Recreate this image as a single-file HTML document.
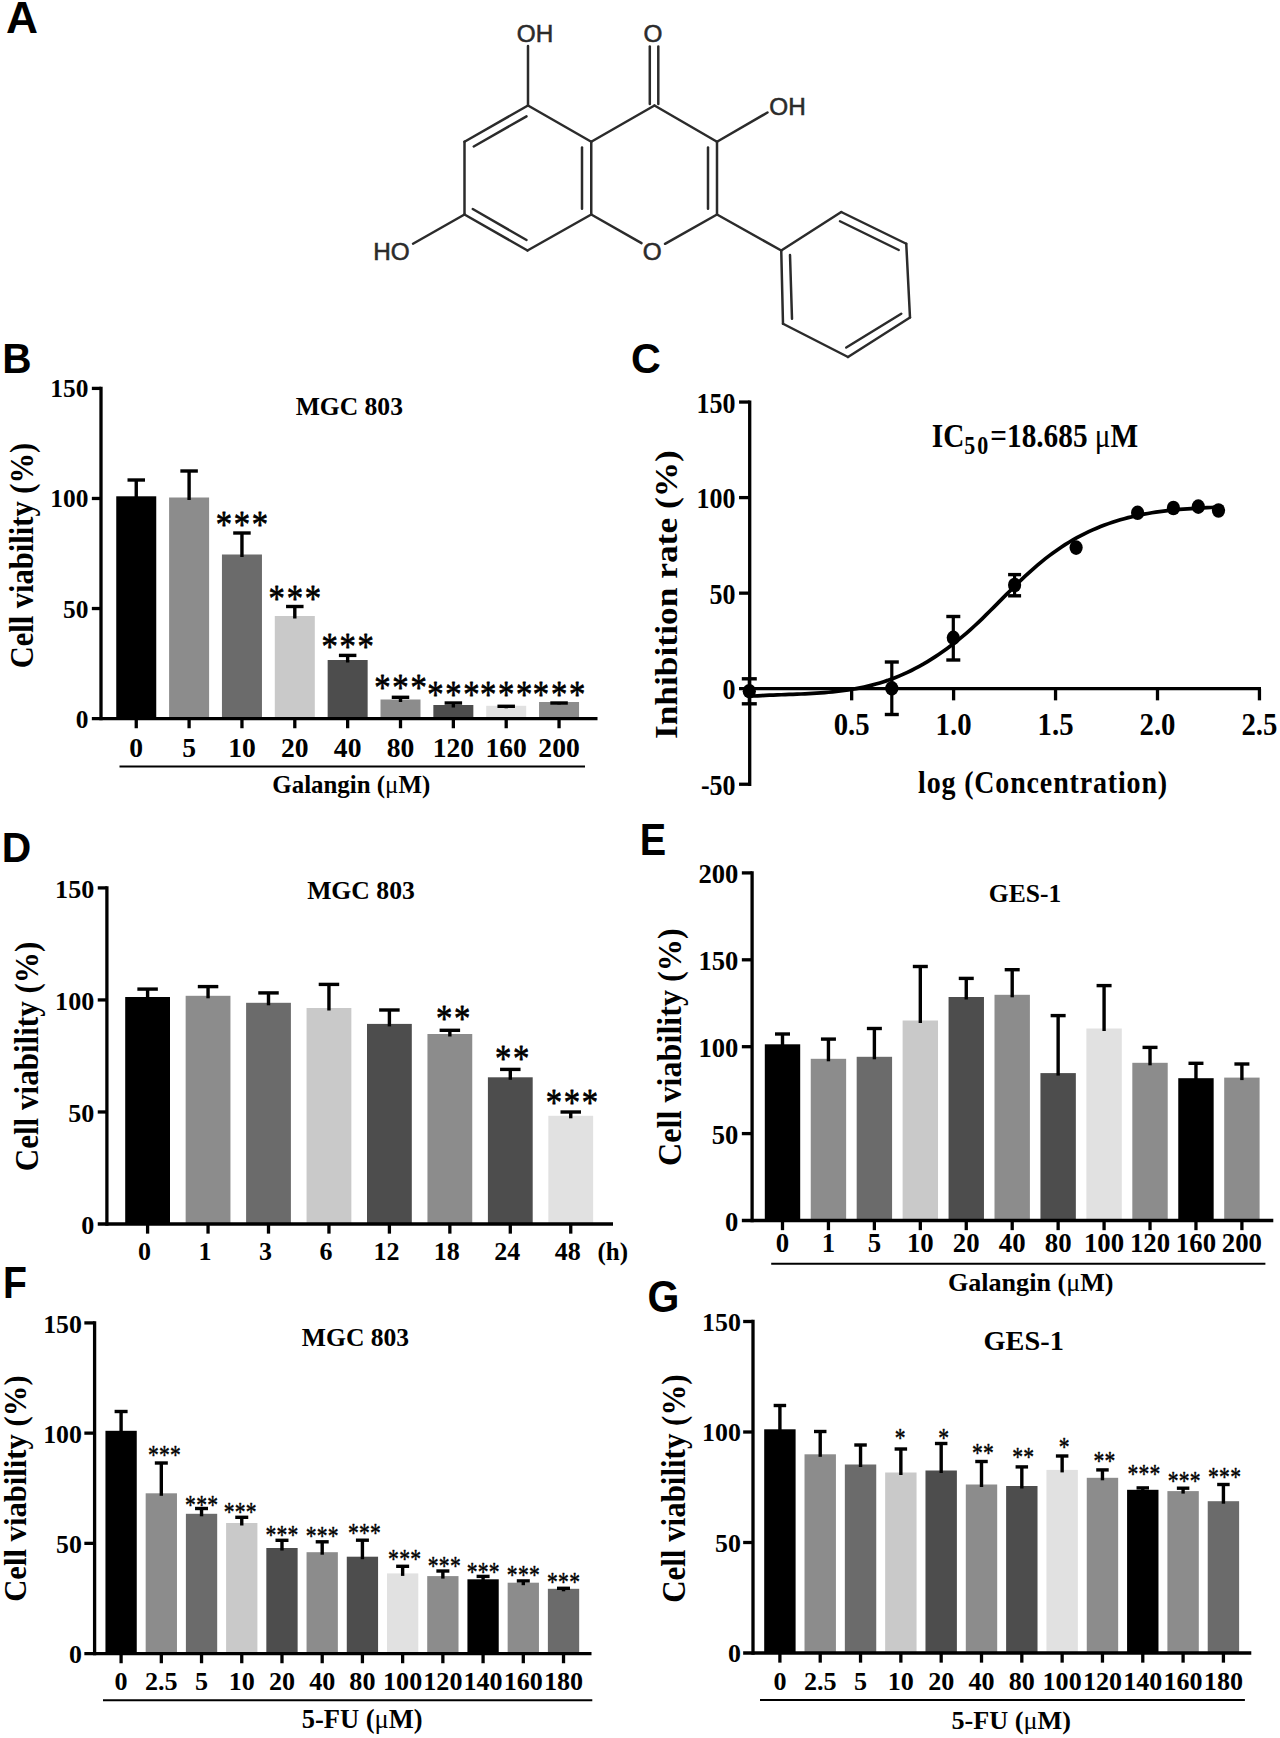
<!DOCTYPE html>
<html lang="en"><head><meta charset="utf-8"><title>Galangin figure</title>
<style>
html,body{margin:0;padding:0;background:#fff;}
svg{display:block;width:1280px;height:1738px;}
.s{font-family:"Liberation Serif", "DejaVu Serif", serif;font-weight:700;fill:#000;}
.sb{font-family:"Liberation Serif", "DejaVu Serif", serif;font-weight:400;fill:#000;stroke:#000;stroke-linejoin:round;}
.mu{font-family:"Liberation Serif", "DejaVu Serif", serif;font-weight:400;}
.pl{font-family:"Liberation Sans", "DejaVu Sans", sans-serif;font-weight:700;fill:#000;}
.ch{font-family:"Liberation Sans", "DejaVu Sans", sans-serif;font-weight:400;fill:#2b2b2b;stroke:#2b2b2b;stroke-width:0.55px;}
</style></head><body>
<svg width="1280" height="1738" viewBox="0 0 1280 1738">
<rect width="1280" height="1738" fill="#fff"/>
<text class="pl" transform="translate(5.9 32.7) scale(1.0 1)" font-size="44.3">A</text>
<text class="pl" transform="translate(2.3 373.2) scale(0.94 1)" font-size="43.2">B</text>
<text class="pl" transform="translate(631 372.8) scale(0.965 1)" font-size="42.8">C</text>
<text class="pl" transform="translate(1.8 862.3) scale(0.945 1)" font-size="43.2">D</text>
<text class="pl" transform="translate(639.7 854.6) scale(0.9 1)" font-size="44">E</text>
<text class="pl" transform="translate(3 1297.6) scale(0.89 1)" font-size="44">F</text>
<text class="pl" transform="translate(647.5 1311.8) scale(0.91 1)" font-size="45">G</text>
<g id="molecule">
<line x1="528" y1="105.5" x2="464.5" y2="141.75" stroke="#2b2b2b" stroke-width="2.5" stroke-linecap="round"/>
<line x1="464.5" y1="141.75" x2="464.5" y2="214.5" stroke="#2b2b2b" stroke-width="2.5" stroke-linecap="round"/>
<line x1="464.5" y1="214.5" x2="527.5" y2="250.5" stroke="#2b2b2b" stroke-width="2.5" stroke-linecap="round"/>
<line x1="527.5" y1="250.5" x2="591.25" y2="214.5" stroke="#2b2b2b" stroke-width="2.5" stroke-linecap="round"/>
<line x1="591.25" y1="214.5" x2="591.25" y2="141.75" stroke="#2b2b2b" stroke-width="2.5" stroke-linecap="round"/>
<line x1="591.25" y1="141.75" x2="528" y2="105.5" stroke="#2b2b2b" stroke-width="2.5" stroke-linecap="round"/>
<line x1="473.75" y1="146.5" x2="526.5" y2="116.3" stroke="#2b2b2b" stroke-width="2.5" stroke-linecap="round"/>
<line x1="582" y1="147.5" x2="582" y2="208.75" stroke="#2b2b2b" stroke-width="2.5" stroke-linecap="round"/>
<line x1="472.75" y1="209" x2="526.5" y2="240" stroke="#2b2b2b" stroke-width="2.5" stroke-linecap="round"/>
<line x1="591.25" y1="141.75" x2="654.5" y2="105.5" stroke="#2b2b2b" stroke-width="2.5" stroke-linecap="round"/>
<line x1="654.5" y1="105.5" x2="717" y2="141.75" stroke="#2b2b2b" stroke-width="2.5" stroke-linecap="round"/>
<line x1="717" y1="141.75" x2="717" y2="214.5" stroke="#2b2b2b" stroke-width="2.5" stroke-linecap="round"/>
<line x1="708" y1="147.5" x2="708" y2="208.75" stroke="#2b2b2b" stroke-width="2.5" stroke-linecap="round"/>
<line x1="591.25" y1="214.5" x2="641.5" y2="243.2" stroke="#2b2b2b" stroke-width="2.5" stroke-linecap="round"/>
<line x1="665" y1="243.8" x2="717" y2="214.5" stroke="#2b2b2b" stroke-width="2.5" stroke-linecap="round"/>
<line x1="528" y1="105.5" x2="528" y2="46" stroke="#2b2b2b" stroke-width="2.5" stroke-linecap="round"/>
<line x1="649.8" y1="104" x2="649.8" y2="46.5" stroke="#2b2b2b" stroke-width="2.5" stroke-linecap="round"/>
<line x1="658.3" y1="104" x2="658.3" y2="46.5" stroke="#2b2b2b" stroke-width="2.5" stroke-linecap="round"/>
<line x1="464.5" y1="214.5" x2="413" y2="243.75" stroke="#2b2b2b" stroke-width="2.5" stroke-linecap="round"/>
<line x1="717" y1="141.75" x2="767.5" y2="112.5" stroke="#2b2b2b" stroke-width="2.5" stroke-linecap="round"/>
<line x1="717" y1="214.5" x2="781.25" y2="250.5" stroke="#2b2b2b" stroke-width="2.5" stroke-linecap="round"/>
<line x1="781.25" y1="250.5" x2="841.25" y2="212" stroke="#2b2b2b" stroke-width="2.5" stroke-linecap="round"/>
<line x1="841.25" y1="212" x2="906.25" y2="243.75" stroke="#2b2b2b" stroke-width="2.5" stroke-linecap="round"/>
<line x1="906.25" y1="243.75" x2="910" y2="317.5" stroke="#2b2b2b" stroke-width="2.5" stroke-linecap="round"/>
<line x1="910" y1="317.5" x2="848" y2="357" stroke="#2b2b2b" stroke-width="2.5" stroke-linecap="round"/>
<line x1="848" y1="357" x2="783" y2="323.75" stroke="#2b2b2b" stroke-width="2.5" stroke-linecap="round"/>
<line x1="783" y1="323.75" x2="781.25" y2="250.5" stroke="#2b2b2b" stroke-width="2.5" stroke-linecap="round"/>
<line x1="790" y1="255" x2="792" y2="318.75" stroke="#2b2b2b" stroke-width="2.5" stroke-linecap="round"/>
<line x1="840" y1="221.25" x2="898.75" y2="250" stroke="#2b2b2b" stroke-width="2.5" stroke-linecap="round"/>
<line x1="846.25" y1="347.5" x2="901.25" y2="313.75" stroke="#2b2b2b" stroke-width="2.5" stroke-linecap="round"/>
<text class="ch" x="535" y="41.6" font-size="24.3" text-anchor="middle">OH</text>
<text class="ch" x="652.9" y="41.6" font-size="24.3" text-anchor="middle">O</text>
<text class="ch" x="787.5" y="114.8" font-size="24.3" text-anchor="middle">OH</text>
<text class="ch" x="391.5" y="260.4" font-size="24.3" text-anchor="middle">HO</text>
<text class="ch" x="652.3" y="260.4" font-size="24.3" text-anchor="middle">O</text>
</g>
<g id="panelB">
<rect x="116.25" y="496.3" width="40" height="222.3" fill="#000000"/>
<rect x="169.1" y="497.5" width="40" height="221.1" fill="#8c8c8c"/>
<rect x="221.95" y="554.5" width="40" height="164.1" fill="#6b6b6b"/>
<rect x="274.8" y="616" width="40" height="102.6" fill="#c9c9c9"/>
<rect x="327.65" y="660" width="40" height="58.6" fill="#4d4d4d"/>
<rect x="380.5" y="699.5" width="40" height="19.1" fill="#8c8c8c"/>
<rect x="433.35" y="705" width="40" height="13.6" fill="#4d4d4d"/>
<rect x="486.2" y="705.8" width="40" height="12.8" fill="#e1e1e1"/>
<rect x="539.05" y="702" width="40" height="16.6" fill="#8c8c8c"/>
<line x1="136.25" y1="480" x2="136.25" y2="498.8" stroke="#000" stroke-width="3.4" stroke-linecap="butt"/>
<line x1="127.5" y1="480" x2="145" y2="480" stroke="#000" stroke-width="3.4" stroke-linecap="butt"/>
<line x1="189.1" y1="471" x2="189.1" y2="500" stroke="#000" stroke-width="3.4" stroke-linecap="butt"/>
<line x1="180.35" y1="471" x2="197.85" y2="471" stroke="#000" stroke-width="3.4" stroke-linecap="butt"/>
<line x1="241.95" y1="533" x2="241.95" y2="557" stroke="#000" stroke-width="3.4" stroke-linecap="butt"/>
<line x1="233.2" y1="533" x2="250.7" y2="533" stroke="#000" stroke-width="3.4" stroke-linecap="butt"/>
<text class="sb" stroke-width="0.75" transform="translate(242.81 536.6) scale(0.86 1)" font-size="38" text-anchor="middle" letter-spacing="2.0">***</text>
<line x1="294.8" y1="606.5" x2="294.8" y2="618.5" stroke="#000" stroke-width="3.4" stroke-linecap="butt"/>
<line x1="286.05" y1="606.5" x2="303.55" y2="606.5" stroke="#000" stroke-width="3.4" stroke-linecap="butt"/>
<text class="sb" stroke-width="0.75" transform="translate(295.66 610.64) scale(0.86 1)" font-size="38" text-anchor="middle" letter-spacing="2.0">***</text>
<line x1="347.65" y1="655.4" x2="347.65" y2="662.5" stroke="#000" stroke-width="3.4" stroke-linecap="butt"/>
<line x1="338.9" y1="655.4" x2="356.4" y2="655.4" stroke="#000" stroke-width="3.4" stroke-linecap="butt"/>
<text class="sb" stroke-width="0.75" transform="translate(348.51 659.1) scale(0.86 1)" font-size="38" text-anchor="middle" letter-spacing="2.0">***</text>
<line x1="400.5" y1="697.3" x2="400.5" y2="702" stroke="#000" stroke-width="3.4" stroke-linecap="butt"/>
<line x1="391.75" y1="697.3" x2="409.25" y2="697.3" stroke="#000" stroke-width="3.4" stroke-linecap="butt"/>
<text class="sb" stroke-width="0.75" transform="translate(401.36 700.35) scale(0.86 1)" font-size="38" text-anchor="middle" letter-spacing="2.0">***</text>
<line x1="453.35" y1="703" x2="453.35" y2="707.5" stroke="#000" stroke-width="3.4" stroke-linecap="butt"/>
<line x1="444.6" y1="703" x2="462.1" y2="703" stroke="#000" stroke-width="3.4" stroke-linecap="butt"/>
<text class="sb" stroke-width="0.75" transform="translate(454.21 706.6) scale(0.86 1)" font-size="38" text-anchor="middle" letter-spacing="2.0">***</text>
<line x1="506.2" y1="706.3" x2="506.2" y2="708.3" stroke="#000" stroke-width="3.4" stroke-linecap="butt"/>
<line x1="497.45" y1="706.3" x2="514.95" y2="706.3" stroke="#000" stroke-width="3.4" stroke-linecap="butt"/>
<text class="sb" stroke-width="0.75" transform="translate(507.06 706.6) scale(0.86 1)" font-size="38" text-anchor="middle" letter-spacing="2.0">***</text>
<line x1="559.05" y1="703" x2="559.05" y2="704.5" stroke="#000" stroke-width="3.4" stroke-linecap="butt"/>
<line x1="550.3" y1="703" x2="567.8" y2="703" stroke="#000" stroke-width="3.4" stroke-linecap="butt"/>
<text class="sb" stroke-width="0.75" transform="translate(559.91 706.6) scale(0.86 1)" font-size="38" text-anchor="middle" letter-spacing="2.0">***</text>
<line x1="101" y1="386.75" x2="101" y2="720.25" stroke="#000" stroke-width="3.3" stroke-linecap="butt"/>
<line x1="91.85" y1="718.6" x2="597.5" y2="718.6" stroke="#000" stroke-width="3.3" stroke-linecap="butt"/>
<text class="s" x="88.35" y="727.61" font-size="25.4" text-anchor="end">0</text>
<line x1="91.85" y1="608.53" x2="101" y2="608.53" stroke="#000" stroke-width="3.3" stroke-linecap="butt"/>
<text class="s" x="88.35" y="617.54" font-size="25.4" text-anchor="end">50</text>
<line x1="91.85" y1="498.47" x2="101" y2="498.47" stroke="#000" stroke-width="3.3" stroke-linecap="butt"/>
<text class="s" x="88.35" y="507.48" font-size="25.4" text-anchor="end">100</text>
<line x1="91.85" y1="388.4" x2="101" y2="388.4" stroke="#000" stroke-width="3.3" stroke-linecap="butt"/>
<text class="s" x="88.35" y="397.41" font-size="25.4" text-anchor="end">150</text>
<line x1="136.25" y1="718.6" x2="136.25" y2="728.25" stroke="#000" stroke-width="3.3" stroke-linecap="butt"/>
<text class="s" x="136.25" y="757" font-size="27.6" text-anchor="middle">0</text>
<line x1="189.1" y1="718.6" x2="189.1" y2="728.25" stroke="#000" stroke-width="3.3" stroke-linecap="butt"/>
<text class="s" x="189.1" y="757" font-size="27.6" text-anchor="middle">5</text>
<line x1="241.95" y1="718.6" x2="241.95" y2="728.25" stroke="#000" stroke-width="3.3" stroke-linecap="butt"/>
<text class="s" x="241.95" y="757" font-size="27.6" text-anchor="middle">10</text>
<line x1="294.8" y1="718.6" x2="294.8" y2="728.25" stroke="#000" stroke-width="3.3" stroke-linecap="butt"/>
<text class="s" x="294.8" y="757" font-size="27.6" text-anchor="middle">20</text>
<line x1="347.65" y1="718.6" x2="347.65" y2="728.25" stroke="#000" stroke-width="3.3" stroke-linecap="butt"/>
<text class="s" x="347.65" y="757" font-size="27.6" text-anchor="middle">40</text>
<line x1="400.5" y1="718.6" x2="400.5" y2="728.25" stroke="#000" stroke-width="3.3" stroke-linecap="butt"/>
<text class="s" x="400.5" y="757" font-size="27.6" text-anchor="middle">80</text>
<line x1="453.35" y1="718.6" x2="453.35" y2="728.25" stroke="#000" stroke-width="3.3" stroke-linecap="butt"/>
<text class="s" x="453.35" y="757" font-size="27.6" text-anchor="middle">120</text>
<line x1="506.2" y1="718.6" x2="506.2" y2="728.25" stroke="#000" stroke-width="3.3" stroke-linecap="butt"/>
<text class="s" x="506.2" y="757" font-size="27.6" text-anchor="middle">160</text>
<line x1="559.05" y1="718.6" x2="559.05" y2="728.25" stroke="#000" stroke-width="3.3" stroke-linecap="butt"/>
<text class="s" x="559.05" y="757" font-size="27.6" text-anchor="middle">200</text>
<line x1="119.5" y1="766.6" x2="585" y2="766.6" stroke="#000" stroke-width="2" stroke-linecap="butt"/>
<text class="s" x="351.3" y="793" font-size="24.9" text-anchor="middle">Galangin (<tspan class="mu">μ</tspan>M)</text>
<text class="s" x="349.3" y="415" font-size="25.6" text-anchor="middle">MGC 803</text>
<text class="s" transform="translate(32.8 555.6) rotate(-90)" font-size="32.7" text-anchor="middle" textLength="225.5" lengthAdjust="spacingAndGlyphs">Cell viability (%)</text>
</g>
<g id="panelD">
<rect x="125.2" y="997" width="44.8" height="227" fill="#000000"/>
<rect x="185.65" y="995.8" width="44.8" height="228.2" fill="#8c8c8c"/>
<rect x="246.1" y="1002.8" width="44.8" height="221.2" fill="#6b6b6b"/>
<rect x="306.55" y="1008" width="44.8" height="216" fill="#c9c9c9"/>
<rect x="367" y="1023.9" width="44.8" height="200.1" fill="#4d4d4d"/>
<rect x="427.45" y="1034" width="44.8" height="190" fill="#8c8c8c"/>
<rect x="487.9" y="1077.3" width="44.8" height="146.7" fill="#4d4d4d"/>
<rect x="548.35" y="1115.8" width="44.8" height="108.2" fill="#e1e1e1"/>
<line x1="147.6" y1="989.1" x2="147.6" y2="999.5" stroke="#000" stroke-width="3.4" stroke-linecap="butt"/>
<line x1="137.35" y1="989.1" x2="157.85" y2="989.1" stroke="#000" stroke-width="3.4" stroke-linecap="butt"/>
<line x1="208.05" y1="986.6" x2="208.05" y2="998.3" stroke="#000" stroke-width="3.4" stroke-linecap="butt"/>
<line x1="197.8" y1="986.6" x2="218.3" y2="986.6" stroke="#000" stroke-width="3.4" stroke-linecap="butt"/>
<line x1="268.5" y1="992.9" x2="268.5" y2="1005.3" stroke="#000" stroke-width="3.4" stroke-linecap="butt"/>
<line x1="258.25" y1="992.9" x2="278.75" y2="992.9" stroke="#000" stroke-width="3.4" stroke-linecap="butt"/>
<line x1="328.95" y1="984.4" x2="328.95" y2="1010.5" stroke="#000" stroke-width="3.4" stroke-linecap="butt"/>
<line x1="318.7" y1="984.4" x2="339.2" y2="984.4" stroke="#000" stroke-width="3.4" stroke-linecap="butt"/>
<line x1="389.4" y1="1010" x2="389.4" y2="1026.4" stroke="#000" stroke-width="3.4" stroke-linecap="butt"/>
<line x1="379.15" y1="1010" x2="399.65" y2="1010" stroke="#000" stroke-width="3.4" stroke-linecap="butt"/>
<line x1="449.85" y1="1030.3" x2="449.85" y2="1036.5" stroke="#000" stroke-width="3.4" stroke-linecap="butt"/>
<line x1="439.6" y1="1030.3" x2="460.1" y2="1030.3" stroke="#000" stroke-width="3.4" stroke-linecap="butt"/>
<text class="sb" stroke-width="0.75" transform="translate(454.11 1031.05) scale(0.86 1)" font-size="38" text-anchor="middle" letter-spacing="2.0">**</text>
<line x1="510.3" y1="1069.4" x2="510.3" y2="1079.8" stroke="#000" stroke-width="3.4" stroke-linecap="butt"/>
<line x1="500.05" y1="1069.4" x2="520.55" y2="1069.4" stroke="#000" stroke-width="3.4" stroke-linecap="butt"/>
<text class="sb" stroke-width="0.75" transform="translate(512.96 1070.85) scale(0.86 1)" font-size="38" text-anchor="middle" letter-spacing="2.0">**</text>
<line x1="570.75" y1="1112" x2="570.75" y2="1118.3" stroke="#000" stroke-width="3.4" stroke-linecap="butt"/>
<line x1="560.5" y1="1112" x2="581" y2="1112" stroke="#000" stroke-width="3.4" stroke-linecap="butt"/>
<text class="sb" stroke-width="0.75" transform="translate(572.81 1114.75) scale(0.86 1)" font-size="38" text-anchor="middle" letter-spacing="2.0">***</text>
<line x1="106.9" y1="886.25" x2="106.9" y2="1225.65" stroke="#000" stroke-width="3.3" stroke-linecap="butt"/>
<line x1="97.75" y1="1224" x2="613" y2="1224" stroke="#000" stroke-width="3.3" stroke-linecap="butt"/>
<text class="s" x="94.25" y="1234.24" font-size="26.1" text-anchor="end">0</text>
<line x1="97.75" y1="1111.97" x2="106.9" y2="1111.97" stroke="#000" stroke-width="3.3" stroke-linecap="butt"/>
<text class="s" x="94.25" y="1122.21" font-size="26.1" text-anchor="end">50</text>
<line x1="97.75" y1="999.93" x2="106.9" y2="999.93" stroke="#000" stroke-width="3.3" stroke-linecap="butt"/>
<text class="s" x="94.25" y="1010.18" font-size="26.1" text-anchor="end">100</text>
<line x1="97.75" y1="887.9" x2="106.9" y2="887.9" stroke="#000" stroke-width="3.3" stroke-linecap="butt"/>
<text class="s" x="94.25" y="898.14" font-size="26.1" text-anchor="end">150</text>
<line x1="147.6" y1="1224" x2="147.6" y2="1233.65" stroke="#000" stroke-width="3.3" stroke-linecap="butt"/>
<text class="s" x="144.6" y="1260.4" font-size="26" text-anchor="middle">0</text>
<line x1="208.05" y1="1224" x2="208.05" y2="1233.65" stroke="#000" stroke-width="3.3" stroke-linecap="butt"/>
<text class="s" x="205.05" y="1260.4" font-size="26" text-anchor="middle">1</text>
<line x1="268.5" y1="1224" x2="268.5" y2="1233.65" stroke="#000" stroke-width="3.3" stroke-linecap="butt"/>
<text class="s" x="265.5" y="1260.4" font-size="26" text-anchor="middle">3</text>
<line x1="328.95" y1="1224" x2="328.95" y2="1233.65" stroke="#000" stroke-width="3.3" stroke-linecap="butt"/>
<text class="s" x="325.95" y="1260.4" font-size="26" text-anchor="middle">6</text>
<line x1="389.4" y1="1224" x2="389.4" y2="1233.65" stroke="#000" stroke-width="3.3" stroke-linecap="butt"/>
<text class="s" x="386.4" y="1260.4" font-size="26" text-anchor="middle">12</text>
<line x1="449.85" y1="1224" x2="449.85" y2="1233.65" stroke="#000" stroke-width="3.3" stroke-linecap="butt"/>
<text class="s" x="446.85" y="1260.4" font-size="26" text-anchor="middle">18</text>
<line x1="510.3" y1="1224" x2="510.3" y2="1233.65" stroke="#000" stroke-width="3.3" stroke-linecap="butt"/>
<text class="s" x="507.3" y="1260.4" font-size="26" text-anchor="middle">24</text>
<line x1="570.75" y1="1224" x2="570.75" y2="1233.65" stroke="#000" stroke-width="3.3" stroke-linecap="butt"/>
<text class="s" x="567.75" y="1260.4" font-size="26" text-anchor="middle">48</text>
<text class="s" x="361" y="899" font-size="25.7" text-anchor="middle">MGC 803</text>
<text class="s" transform="translate(37.5 1056.5) rotate(-90)" font-size="32.7" text-anchor="middle" textLength="229.5" lengthAdjust="spacingAndGlyphs">Cell viability (%)</text>
<text class="s" x="612.7" y="1260.3" font-size="25" text-anchor="middle">(h)</text>
</g>
<g id="panelE">
<rect x="764.8" y="1044.3" width="35.4" height="176.2" fill="#000000"/>
<rect x="810.74" y="1058.8" width="35.4" height="161.7" fill="#8c8c8c"/>
<rect x="856.68" y="1056.8" width="35.4" height="163.7" fill="#6b6b6b"/>
<rect x="902.62" y="1020.5" width="35.4" height="200" fill="#c9c9c9"/>
<rect x="948.56" y="997" width="35.4" height="223.5" fill="#4d4d4d"/>
<rect x="994.5" y="994.8" width="35.4" height="225.7" fill="#8c8c8c"/>
<rect x="1040.44" y="1073.1" width="35.4" height="147.4" fill="#4d4d4d"/>
<rect x="1086.38" y="1028.5" width="35.4" height="192" fill="#e1e1e1"/>
<rect x="1132.32" y="1062.8" width="35.4" height="157.7" fill="#8c8c8c"/>
<rect x="1178.26" y="1078.2" width="35.4" height="142.3" fill="#000000"/>
<rect x="1224.2" y="1077.6" width="35.4" height="142.9" fill="#8c8c8c"/>
<line x1="782.5" y1="1034" x2="782.5" y2="1046.8" stroke="#000" stroke-width="3.4" stroke-linecap="butt"/>
<line x1="775" y1="1034" x2="790" y2="1034" stroke="#000" stroke-width="3.4" stroke-linecap="butt"/>
<line x1="828.44" y1="1039.1" x2="828.44" y2="1061.3" stroke="#000" stroke-width="3.4" stroke-linecap="butt"/>
<line x1="820.94" y1="1039.1" x2="835.94" y2="1039.1" stroke="#000" stroke-width="3.4" stroke-linecap="butt"/>
<line x1="874.38" y1="1028.5" x2="874.38" y2="1059.3" stroke="#000" stroke-width="3.4" stroke-linecap="butt"/>
<line x1="866.88" y1="1028.5" x2="881.88" y2="1028.5" stroke="#000" stroke-width="3.4" stroke-linecap="butt"/>
<line x1="920.32" y1="966.5" x2="920.32" y2="1023" stroke="#000" stroke-width="3.4" stroke-linecap="butt"/>
<line x1="912.82" y1="966.5" x2="927.82" y2="966.5" stroke="#000" stroke-width="3.4" stroke-linecap="butt"/>
<line x1="966.26" y1="978.4" x2="966.26" y2="999.5" stroke="#000" stroke-width="3.4" stroke-linecap="butt"/>
<line x1="958.76" y1="978.4" x2="973.76" y2="978.4" stroke="#000" stroke-width="3.4" stroke-linecap="butt"/>
<line x1="1012.2" y1="969.7" x2="1012.2" y2="997.3" stroke="#000" stroke-width="3.4" stroke-linecap="butt"/>
<line x1="1004.7" y1="969.7" x2="1019.7" y2="969.7" stroke="#000" stroke-width="3.4" stroke-linecap="butt"/>
<line x1="1058.14" y1="1015.6" x2="1058.14" y2="1075.6" stroke="#000" stroke-width="3.4" stroke-linecap="butt"/>
<line x1="1050.64" y1="1015.6" x2="1065.64" y2="1015.6" stroke="#000" stroke-width="3.4" stroke-linecap="butt"/>
<line x1="1104.08" y1="985.6" x2="1104.08" y2="1031" stroke="#000" stroke-width="3.4" stroke-linecap="butt"/>
<line x1="1096.58" y1="985.6" x2="1111.58" y2="985.6" stroke="#000" stroke-width="3.4" stroke-linecap="butt"/>
<line x1="1150.02" y1="1047.4" x2="1150.02" y2="1065.3" stroke="#000" stroke-width="3.4" stroke-linecap="butt"/>
<line x1="1142.52" y1="1047.4" x2="1157.52" y2="1047.4" stroke="#000" stroke-width="3.4" stroke-linecap="butt"/>
<line x1="1195.96" y1="1063.3" x2="1195.96" y2="1080.7" stroke="#000" stroke-width="3.4" stroke-linecap="butt"/>
<line x1="1188.46" y1="1063.3" x2="1203.46" y2="1063.3" stroke="#000" stroke-width="3.4" stroke-linecap="butt"/>
<line x1="1241.9" y1="1064" x2="1241.9" y2="1080.1" stroke="#000" stroke-width="3.4" stroke-linecap="butt"/>
<line x1="1234.4" y1="1064" x2="1249.4" y2="1064" stroke="#000" stroke-width="3.4" stroke-linecap="butt"/>
<line x1="752.1" y1="871.25" x2="752.1" y2="1222.15" stroke="#000" stroke-width="3.3" stroke-linecap="butt"/>
<line x1="741.85" y1="1220.5" x2="1273.3" y2="1220.5" stroke="#000" stroke-width="3.3" stroke-linecap="butt"/>
<text class="s" x="738.35" y="1230.91" font-size="26.6" text-anchor="end">0</text>
<line x1="741.85" y1="1133.6" x2="752.1" y2="1133.6" stroke="#000" stroke-width="3.3" stroke-linecap="butt"/>
<text class="s" x="738.35" y="1144.01" font-size="26.6" text-anchor="end">50</text>
<line x1="741.85" y1="1046.7" x2="752.1" y2="1046.7" stroke="#000" stroke-width="3.3" stroke-linecap="butt"/>
<text class="s" x="738.35" y="1057.11" font-size="26.6" text-anchor="end">100</text>
<line x1="741.85" y1="959.8" x2="752.1" y2="959.8" stroke="#000" stroke-width="3.3" stroke-linecap="butt"/>
<text class="s" x="738.35" y="970.21" font-size="26.6" text-anchor="end">150</text>
<line x1="741.85" y1="872.9" x2="752.1" y2="872.9" stroke="#000" stroke-width="3.3" stroke-linecap="butt"/>
<text class="s" x="738.35" y="883.31" font-size="26.6" text-anchor="end">200</text>
<line x1="782.5" y1="1220.5" x2="782.5" y2="1230.15" stroke="#000" stroke-width="3.3" stroke-linecap="butt"/>
<text class="s" x="782.5" y="1251.6" font-size="26.8" text-anchor="middle">0</text>
<line x1="828.44" y1="1220.5" x2="828.44" y2="1230.15" stroke="#000" stroke-width="3.3" stroke-linecap="butt"/>
<text class="s" x="828.44" y="1251.6" font-size="26.8" text-anchor="middle">1</text>
<line x1="874.38" y1="1220.5" x2="874.38" y2="1230.15" stroke="#000" stroke-width="3.3" stroke-linecap="butt"/>
<text class="s" x="874.38" y="1251.6" font-size="26.8" text-anchor="middle">5</text>
<line x1="920.32" y1="1220.5" x2="920.32" y2="1230.15" stroke="#000" stroke-width="3.3" stroke-linecap="butt"/>
<text class="s" x="920.32" y="1251.6" font-size="26.8" text-anchor="middle">10</text>
<line x1="966.26" y1="1220.5" x2="966.26" y2="1230.15" stroke="#000" stroke-width="3.3" stroke-linecap="butt"/>
<text class="s" x="966.26" y="1251.6" font-size="26.8" text-anchor="middle">20</text>
<line x1="1012.2" y1="1220.5" x2="1012.2" y2="1230.15" stroke="#000" stroke-width="3.3" stroke-linecap="butt"/>
<text class="s" x="1012.2" y="1251.6" font-size="26.8" text-anchor="middle">40</text>
<line x1="1058.14" y1="1220.5" x2="1058.14" y2="1230.15" stroke="#000" stroke-width="3.3" stroke-linecap="butt"/>
<text class="s" x="1058.14" y="1251.6" font-size="26.8" text-anchor="middle">80</text>
<line x1="1104.08" y1="1220.5" x2="1104.08" y2="1230.15" stroke="#000" stroke-width="3.3" stroke-linecap="butt"/>
<text class="s" x="1104.08" y="1251.6" font-size="26.8" text-anchor="middle">100</text>
<line x1="1150.02" y1="1220.5" x2="1150.02" y2="1230.15" stroke="#000" stroke-width="3.3" stroke-linecap="butt"/>
<text class="s" x="1150.02" y="1251.6" font-size="26.8" text-anchor="middle">120</text>
<line x1="1195.96" y1="1220.5" x2="1195.96" y2="1230.15" stroke="#000" stroke-width="3.3" stroke-linecap="butt"/>
<text class="s" x="1195.96" y="1251.6" font-size="26.8" text-anchor="middle">160</text>
<line x1="1241.9" y1="1220.5" x2="1241.9" y2="1230.15" stroke="#000" stroke-width="3.3" stroke-linecap="butt"/>
<text class="s" x="1241.9" y="1251.6" font-size="26.8" text-anchor="middle">200</text>
<line x1="771.2" y1="1263.8" x2="1265.4" y2="1263.8" stroke="#000" stroke-width="2" stroke-linecap="butt"/>
<text class="s" x="1030.7" y="1291.4" font-size="26.1" text-anchor="middle">Galangin (<tspan class="mu">μ</tspan>M)</text>
<text class="s" x="1025" y="902" font-size="25.5" text-anchor="middle">GES-1</text>
<text class="s" transform="translate(680.6 1047.1) rotate(-90)" font-size="34.1" text-anchor="middle" textLength="237.6" lengthAdjust="spacingAndGlyphs">Cell viability (%)</text>
</g>
<g id="panelF">
<rect x="105.45" y="1430.8" width="31.3" height="222.8" fill="#000000"/>
<rect x="145.67" y="1493.3" width="31.3" height="160.3" fill="#8c8c8c"/>
<rect x="185.89" y="1513.8" width="31.3" height="139.8" fill="#6b6b6b"/>
<rect x="226.11" y="1523" width="31.3" height="130.6" fill="#c9c9c9"/>
<rect x="266.33" y="1548" width="31.3" height="105.6" fill="#4d4d4d"/>
<rect x="306.55" y="1552.2" width="31.3" height="101.4" fill="#8c8c8c"/>
<rect x="346.77" y="1556.7" width="31.3" height="96.9" fill="#4d4d4d"/>
<rect x="386.99" y="1573.4" width="31.3" height="80.2" fill="#e1e1e1"/>
<rect x="427.21" y="1576.1" width="31.3" height="77.5" fill="#8c8c8c"/>
<rect x="467.43" y="1579.3" width="31.3" height="74.3" fill="#000000"/>
<rect x="507.65" y="1582.7" width="31.3" height="70.9" fill="#8c8c8c"/>
<rect x="547.87" y="1588.8" width="31.3" height="64.8" fill="#6b6b6b"/>
<line x1="121.1" y1="1411.5" x2="121.1" y2="1433.3" stroke="#000" stroke-width="3.4" stroke-linecap="butt"/>
<line x1="114.6" y1="1411.5" x2="127.6" y2="1411.5" stroke="#000" stroke-width="3.4" stroke-linecap="butt"/>
<line x1="161.32" y1="1463" x2="161.32" y2="1495.8" stroke="#000" stroke-width="3.4" stroke-linecap="butt"/>
<line x1="154.82" y1="1463" x2="167.82" y2="1463" stroke="#000" stroke-width="3.4" stroke-linecap="butt"/>
<text class="sb" stroke-width="0.45" transform="translate(164.54 1463.56) scale(0.8 1)" font-size="27" text-anchor="middle" letter-spacing="0.3">***</text>
<line x1="201.54" y1="1508.5" x2="201.54" y2="1516.3" stroke="#000" stroke-width="3.4" stroke-linecap="butt"/>
<line x1="195.04" y1="1508.5" x2="208.04" y2="1508.5" stroke="#000" stroke-width="3.4" stroke-linecap="butt"/>
<text class="sb" stroke-width="0.45" transform="translate(201.66 1513.81) scale(0.8 1)" font-size="27" text-anchor="middle" letter-spacing="0.3">***</text>
<line x1="241.76" y1="1517.3" x2="241.76" y2="1525.5" stroke="#000" stroke-width="3.4" stroke-linecap="butt"/>
<line x1="235.26" y1="1517.3" x2="248.26" y2="1517.3" stroke="#000" stroke-width="3.4" stroke-linecap="butt"/>
<text class="sb" stroke-width="0.45" transform="translate(240.18 1520.81) scale(0.8 1)" font-size="27" text-anchor="middle" letter-spacing="0.3">***</text>
<line x1="281.98" y1="1540.3" x2="281.98" y2="1550.5" stroke="#000" stroke-width="3.4" stroke-linecap="butt"/>
<line x1="275.48" y1="1540.3" x2="288.48" y2="1540.3" stroke="#000" stroke-width="3.4" stroke-linecap="butt"/>
<text class="sb" stroke-width="0.45" transform="translate(282.1 1543.56) scale(0.8 1)" font-size="27" text-anchor="middle" letter-spacing="0.3">***</text>
<line x1="322.2" y1="1541.8" x2="322.2" y2="1554.7" stroke="#000" stroke-width="3.4" stroke-linecap="butt"/>
<line x1="315.7" y1="1541.8" x2="328.7" y2="1541.8" stroke="#000" stroke-width="3.4" stroke-linecap="butt"/>
<text class="sb" stroke-width="0.45" transform="translate(322.32 1545.4) scale(0.8 1)" font-size="27" text-anchor="middle" letter-spacing="0.3">***</text>
<line x1="362.42" y1="1540.2" x2="362.42" y2="1559.2" stroke="#000" stroke-width="3.4" stroke-linecap="butt"/>
<line x1="355.92" y1="1540.2" x2="368.92" y2="1540.2" stroke="#000" stroke-width="3.4" stroke-linecap="butt"/>
<text class="sb" stroke-width="0.45" transform="translate(364.54 1542.21) scale(0.8 1)" font-size="27" text-anchor="middle" letter-spacing="0.3">***</text>
<line x1="402.64" y1="1566.3" x2="402.64" y2="1575.9" stroke="#000" stroke-width="3.4" stroke-linecap="butt"/>
<line x1="396.14" y1="1566.3" x2="409.14" y2="1566.3" stroke="#000" stroke-width="3.4" stroke-linecap="butt"/>
<text class="sb" stroke-width="0.45" transform="translate(404.66 1568.01) scale(0.8 1)" font-size="27" text-anchor="middle" letter-spacing="0.3">***</text>
<line x1="442.86" y1="1571" x2="442.86" y2="1578.6" stroke="#000" stroke-width="3.4" stroke-linecap="butt"/>
<line x1="436.36" y1="1571" x2="449.36" y2="1571" stroke="#000" stroke-width="3.4" stroke-linecap="butt"/>
<text class="sb" stroke-width="0.45" transform="translate(444.38 1574.61) scale(0.8 1)" font-size="27" text-anchor="middle" letter-spacing="0.3">***</text>
<line x1="483.08" y1="1576.4" x2="483.08" y2="1581.8" stroke="#000" stroke-width="3.4" stroke-linecap="butt"/>
<line x1="476.58" y1="1576.4" x2="489.58" y2="1576.4" stroke="#000" stroke-width="3.4" stroke-linecap="butt"/>
<text class="sb" stroke-width="0.45" transform="translate(483.2 1580.51) scale(0.8 1)" font-size="27" text-anchor="middle" letter-spacing="0.3">***</text>
<line x1="523.3" y1="1580.9" x2="523.3" y2="1585.2" stroke="#000" stroke-width="3.4" stroke-linecap="butt"/>
<line x1="516.8" y1="1580.9" x2="529.8" y2="1580.9" stroke="#000" stroke-width="3.4" stroke-linecap="butt"/>
<text class="sb" stroke-width="0.45" transform="translate(523.42 1583.9) scale(0.8 1)" font-size="27" text-anchor="middle" letter-spacing="0.3">***</text>
<line x1="563.52" y1="1588.3" x2="563.52" y2="1591.3" stroke="#000" stroke-width="3.4" stroke-linecap="butt"/>
<line x1="557.02" y1="1588.3" x2="570.02" y2="1588.3" stroke="#000" stroke-width="3.4" stroke-linecap="butt"/>
<text class="sb" stroke-width="0.45" transform="translate(563.64 1591.11) scale(0.8 1)" font-size="27" text-anchor="middle" letter-spacing="0.3">***</text>
<line x1="94.6" y1="1321.25" x2="94.6" y2="1655.25" stroke="#000" stroke-width="3.3" stroke-linecap="butt"/>
<line x1="84.35" y1="1653.6" x2="591.5" y2="1653.6" stroke="#000" stroke-width="3.3" stroke-linecap="butt"/>
<text class="s" x="81.85" y="1663.24" font-size="25.8" text-anchor="end">0</text>
<line x1="84.35" y1="1543.37" x2="94.6" y2="1543.37" stroke="#000" stroke-width="3.3" stroke-linecap="butt"/>
<text class="s" x="81.85" y="1553.01" font-size="25.8" text-anchor="end">50</text>
<line x1="84.35" y1="1433.13" x2="94.6" y2="1433.13" stroke="#000" stroke-width="3.3" stroke-linecap="butt"/>
<text class="s" x="81.85" y="1442.78" font-size="25.8" text-anchor="end">100</text>
<line x1="84.35" y1="1322.9" x2="94.6" y2="1322.9" stroke="#000" stroke-width="3.3" stroke-linecap="butt"/>
<text class="s" x="81.85" y="1332.54" font-size="25.8" text-anchor="end">150</text>
<line x1="121.1" y1="1653.6" x2="121.1" y2="1663.25" stroke="#000" stroke-width="3.3" stroke-linecap="butt"/>
<text class="s" x="121.1" y="1690" font-size="26.1" text-anchor="middle">0</text>
<line x1="161.32" y1="1653.6" x2="161.32" y2="1663.25" stroke="#000" stroke-width="3.3" stroke-linecap="butt"/>
<text class="s" x="161.32" y="1690" font-size="26.1" text-anchor="middle">2.5</text>
<line x1="201.54" y1="1653.6" x2="201.54" y2="1663.25" stroke="#000" stroke-width="3.3" stroke-linecap="butt"/>
<text class="s" x="201.54" y="1690" font-size="26.1" text-anchor="middle">5</text>
<line x1="241.76" y1="1653.6" x2="241.76" y2="1663.25" stroke="#000" stroke-width="3.3" stroke-linecap="butt"/>
<text class="s" x="241.76" y="1690" font-size="26.1" text-anchor="middle">10</text>
<line x1="281.98" y1="1653.6" x2="281.98" y2="1663.25" stroke="#000" stroke-width="3.3" stroke-linecap="butt"/>
<text class="s" x="281.98" y="1690" font-size="26.1" text-anchor="middle">20</text>
<line x1="322.2" y1="1653.6" x2="322.2" y2="1663.25" stroke="#000" stroke-width="3.3" stroke-linecap="butt"/>
<text class="s" x="322.2" y="1690" font-size="26.1" text-anchor="middle">40</text>
<line x1="362.42" y1="1653.6" x2="362.42" y2="1663.25" stroke="#000" stroke-width="3.3" stroke-linecap="butt"/>
<text class="s" x="362.42" y="1690" font-size="26.1" text-anchor="middle">80</text>
<line x1="402.64" y1="1653.6" x2="402.64" y2="1663.25" stroke="#000" stroke-width="3.3" stroke-linecap="butt"/>
<text class="s" x="402.64" y="1690" font-size="26.1" text-anchor="middle">100</text>
<line x1="442.86" y1="1653.6" x2="442.86" y2="1663.25" stroke="#000" stroke-width="3.3" stroke-linecap="butt"/>
<text class="s" x="442.86" y="1690" font-size="26.1" text-anchor="middle">120</text>
<line x1="483.08" y1="1653.6" x2="483.08" y2="1663.25" stroke="#000" stroke-width="3.3" stroke-linecap="butt"/>
<text class="s" x="483.08" y="1690" font-size="26.1" text-anchor="middle">140</text>
<line x1="523.3" y1="1653.6" x2="523.3" y2="1663.25" stroke="#000" stroke-width="3.3" stroke-linecap="butt"/>
<text class="s" x="523.3" y="1690" font-size="26.1" text-anchor="middle">160</text>
<line x1="563.52" y1="1653.6" x2="563.52" y2="1663.25" stroke="#000" stroke-width="3.3" stroke-linecap="butt"/>
<text class="s" x="563.52" y="1690" font-size="26.1" text-anchor="middle">180</text>
<line x1="103" y1="1700.3" x2="592.3" y2="1700.3" stroke="#000" stroke-width="2" stroke-linecap="butt"/>
<text class="s" x="362.1" y="1727.7" font-size="26.5" text-anchor="middle">5-FU (<tspan class="mu">μ</tspan>M)</text>
<text class="s" x="355.5" y="1345.5" font-size="25.6" text-anchor="middle">MGC 803</text>
<text class="s" transform="translate(26 1488.6) rotate(-90)" font-size="32.1" text-anchor="middle" textLength="226.5" lengthAdjust="spacingAndGlyphs">Cell viability (%)</text>
</g>
<g id="panelG">
<rect x="764.2" y="1429.3" width="31.4" height="223.7" fill="#000000"/>
<rect x="804.52" y="1454.3" width="31.4" height="198.7" fill="#8c8c8c"/>
<rect x="844.84" y="1464.5" width="31.4" height="188.5" fill="#6b6b6b"/>
<rect x="885.16" y="1472.5" width="31.4" height="180.5" fill="#c9c9c9"/>
<rect x="925.48" y="1470.5" width="31.4" height="182.5" fill="#4d4d4d"/>
<rect x="965.8" y="1484.5" width="31.4" height="168.5" fill="#8c8c8c"/>
<rect x="1006.12" y="1486" width="31.4" height="167" fill="#4d4d4d"/>
<rect x="1046.44" y="1469.9" width="31.4" height="183.1" fill="#e1e1e1"/>
<rect x="1086.76" y="1477.8" width="31.4" height="175.2" fill="#8c8c8c"/>
<rect x="1127.08" y="1489.8" width="31.4" height="163.2" fill="#000000"/>
<rect x="1167.4" y="1491.1" width="31.4" height="161.9" fill="#8c8c8c"/>
<rect x="1207.72" y="1501.2" width="31.4" height="151.8" fill="#6b6b6b"/>
<line x1="779.9" y1="1405.5" x2="779.9" y2="1431.8" stroke="#000" stroke-width="3.4" stroke-linecap="butt"/>
<line x1="773.65" y1="1405.5" x2="786.15" y2="1405.5" stroke="#000" stroke-width="3.4" stroke-linecap="butt"/>
<line x1="820.22" y1="1431.5" x2="820.22" y2="1456.8" stroke="#000" stroke-width="3.4" stroke-linecap="butt"/>
<line x1="813.97" y1="1431.5" x2="826.47" y2="1431.5" stroke="#000" stroke-width="3.4" stroke-linecap="butt"/>
<line x1="860.54" y1="1445" x2="860.54" y2="1467" stroke="#000" stroke-width="3.4" stroke-linecap="butt"/>
<line x1="854.29" y1="1445" x2="866.79" y2="1445" stroke="#000" stroke-width="3.4" stroke-linecap="butt"/>
<line x1="900.86" y1="1449" x2="900.86" y2="1475" stroke="#000" stroke-width="3.4" stroke-linecap="butt"/>
<line x1="894.61" y1="1449" x2="907.11" y2="1449" stroke="#000" stroke-width="3.4" stroke-linecap="butt"/>
<text class="sb" stroke-width="0.45" transform="translate(900.38 1447.31) scale(0.8 1)" font-size="27" text-anchor="middle" letter-spacing="0.3">*</text>
<line x1="941.18" y1="1443.5" x2="941.18" y2="1473" stroke="#000" stroke-width="3.4" stroke-linecap="butt"/>
<line x1="934.93" y1="1443.5" x2="947.43" y2="1443.5" stroke="#000" stroke-width="3.4" stroke-linecap="butt"/>
<text class="sb" stroke-width="0.45" transform="translate(943.8 1447.31) scale(0.8 1)" font-size="27" text-anchor="middle" letter-spacing="0.3">*</text>
<line x1="981.5" y1="1461.5" x2="981.5" y2="1487" stroke="#000" stroke-width="3.4" stroke-linecap="butt"/>
<line x1="975.25" y1="1461.5" x2="987.75" y2="1461.5" stroke="#000" stroke-width="3.4" stroke-linecap="butt"/>
<text class="sb" stroke-width="0.45" transform="translate(983.02 1461.71) scale(0.8 1)" font-size="27" text-anchor="middle" letter-spacing="0.3">**</text>
<line x1="1021.82" y1="1466.9" x2="1021.82" y2="1488.5" stroke="#000" stroke-width="3.4" stroke-linecap="butt"/>
<line x1="1015.57" y1="1466.9" x2="1028.07" y2="1466.9" stroke="#000" stroke-width="3.4" stroke-linecap="butt"/>
<text class="sb" stroke-width="0.45" transform="translate(1023.24 1465.71) scale(0.8 1)" font-size="27" text-anchor="middle" letter-spacing="0.3">**</text>
<line x1="1062.14" y1="1456" x2="1062.14" y2="1472.4" stroke="#000" stroke-width="3.4" stroke-linecap="butt"/>
<line x1="1055.89" y1="1456" x2="1068.39" y2="1456" stroke="#000" stroke-width="3.4" stroke-linecap="butt"/>
<text class="sb" stroke-width="0.45" transform="translate(1064.26 1455.61) scale(0.8 1)" font-size="27" text-anchor="middle" letter-spacing="0.3">*</text>
<line x1="1102.46" y1="1469.9" x2="1102.46" y2="1480.3" stroke="#000" stroke-width="3.4" stroke-linecap="butt"/>
<line x1="1096.21" y1="1469.9" x2="1108.71" y2="1469.9" stroke="#000" stroke-width="3.4" stroke-linecap="butt"/>
<text class="sb" stroke-width="0.45" transform="translate(1104.58 1469.71) scale(0.8 1)" font-size="27" text-anchor="middle" letter-spacing="0.3">**</text>
<line x1="1142.78" y1="1487.9" x2="1142.78" y2="1492.3" stroke="#000" stroke-width="3.4" stroke-linecap="butt"/>
<line x1="1136.53" y1="1487.9" x2="1149.03" y2="1487.9" stroke="#000" stroke-width="3.4" stroke-linecap="butt"/>
<text class="sb" stroke-width="0.45" transform="translate(1144.1 1483.01) scale(0.8 1)" font-size="27" text-anchor="middle" letter-spacing="0.3">***</text>
<line x1="1183.1" y1="1488.2" x2="1183.1" y2="1493.6" stroke="#000" stroke-width="3.4" stroke-linecap="butt"/>
<line x1="1176.85" y1="1488.2" x2="1189.35" y2="1488.2" stroke="#000" stroke-width="3.4" stroke-linecap="butt"/>
<text class="sb" stroke-width="0.45" transform="translate(1184.22 1490.21) scale(0.8 1)" font-size="27" text-anchor="middle" letter-spacing="0.3">***</text>
<line x1="1223.42" y1="1484.5" x2="1223.42" y2="1503.7" stroke="#000" stroke-width="3.4" stroke-linecap="butt"/>
<line x1="1217.17" y1="1484.5" x2="1229.67" y2="1484.5" stroke="#000" stroke-width="3.4" stroke-linecap="butt"/>
<text class="sb" stroke-width="0.45" transform="translate(1224.64 1485.71) scale(0.8 1)" font-size="27" text-anchor="middle" letter-spacing="0.3">***</text>
<line x1="753" y1="1319.85" x2="753" y2="1654.65" stroke="#000" stroke-width="3.3" stroke-linecap="butt"/>
<line x1="743.15" y1="1653" x2="1251.3" y2="1653" stroke="#000" stroke-width="3.3" stroke-linecap="butt"/>
<text class="s" x="740.85" y="1662.48" font-size="25.9" text-anchor="end">0</text>
<line x1="743.15" y1="1542.5" x2="753" y2="1542.5" stroke="#000" stroke-width="3.3" stroke-linecap="butt"/>
<text class="s" x="740.85" y="1551.98" font-size="25.9" text-anchor="end">50</text>
<line x1="743.15" y1="1432" x2="753" y2="1432" stroke="#000" stroke-width="3.3" stroke-linecap="butt"/>
<text class="s" x="740.85" y="1441.48" font-size="25.9" text-anchor="end">100</text>
<line x1="743.15" y1="1321.5" x2="753" y2="1321.5" stroke="#000" stroke-width="3.3" stroke-linecap="butt"/>
<text class="s" x="740.85" y="1330.98" font-size="25.9" text-anchor="end">150</text>
<line x1="779.9" y1="1653" x2="779.9" y2="1662.65" stroke="#000" stroke-width="3.3" stroke-linecap="butt"/>
<text class="s" x="779.9" y="1689.6" font-size="26.1" text-anchor="middle">0</text>
<line x1="820.22" y1="1653" x2="820.22" y2="1662.65" stroke="#000" stroke-width="3.3" stroke-linecap="butt"/>
<text class="s" x="820.22" y="1689.6" font-size="26.1" text-anchor="middle">2.5</text>
<line x1="860.54" y1="1653" x2="860.54" y2="1662.65" stroke="#000" stroke-width="3.3" stroke-linecap="butt"/>
<text class="s" x="860.54" y="1689.6" font-size="26.1" text-anchor="middle">5</text>
<line x1="900.86" y1="1653" x2="900.86" y2="1662.65" stroke="#000" stroke-width="3.3" stroke-linecap="butt"/>
<text class="s" x="900.86" y="1689.6" font-size="26.1" text-anchor="middle">10</text>
<line x1="941.18" y1="1653" x2="941.18" y2="1662.65" stroke="#000" stroke-width="3.3" stroke-linecap="butt"/>
<text class="s" x="941.18" y="1689.6" font-size="26.1" text-anchor="middle">20</text>
<line x1="981.5" y1="1653" x2="981.5" y2="1662.65" stroke="#000" stroke-width="3.3" stroke-linecap="butt"/>
<text class="s" x="981.5" y="1689.6" font-size="26.1" text-anchor="middle">40</text>
<line x1="1021.82" y1="1653" x2="1021.82" y2="1662.65" stroke="#000" stroke-width="3.3" stroke-linecap="butt"/>
<text class="s" x="1021.82" y="1689.6" font-size="26.1" text-anchor="middle">80</text>
<line x1="1062.14" y1="1653" x2="1062.14" y2="1662.65" stroke="#000" stroke-width="3.3" stroke-linecap="butt"/>
<text class="s" x="1062.14" y="1689.6" font-size="26.1" text-anchor="middle">100</text>
<line x1="1102.46" y1="1653" x2="1102.46" y2="1662.65" stroke="#000" stroke-width="3.3" stroke-linecap="butt"/>
<text class="s" x="1102.46" y="1689.6" font-size="26.1" text-anchor="middle">120</text>
<line x1="1142.78" y1="1653" x2="1142.78" y2="1662.65" stroke="#000" stroke-width="3.3" stroke-linecap="butt"/>
<text class="s" x="1142.78" y="1689.6" font-size="26.1" text-anchor="middle">140</text>
<line x1="1183.1" y1="1653" x2="1183.1" y2="1662.65" stroke="#000" stroke-width="3.3" stroke-linecap="butt"/>
<text class="s" x="1183.1" y="1689.6" font-size="26.1" text-anchor="middle">160</text>
<line x1="1223.42" y1="1653" x2="1223.42" y2="1662.65" stroke="#000" stroke-width="3.3" stroke-linecap="butt"/>
<text class="s" x="1223.42" y="1689.6" font-size="26.1" text-anchor="middle">180</text>
<line x1="760" y1="1700.1" x2="1244.9" y2="1700.1" stroke="#000" stroke-width="2" stroke-linecap="butt"/>
<text class="s" x="1011.2" y="1728.8" font-size="26.2" text-anchor="middle">5-FU (<tspan class="mu">μ</tspan>M)</text>
<text class="s" x="1023.7" y="1349.5" font-size="28.3" text-anchor="middle">GES-1</text>
<text class="s" transform="translate(685 1488.6) rotate(-90)" font-size="33.2" text-anchor="middle" textLength="228.5" lengthAdjust="spacingAndGlyphs">Cell viability (%)</text>
</g>
<g id="panelC">
<polyline points="749.7,696.29 753.64,696.02 757.59,695.79 761.53,695.57 765.47,695.38 769.41,695.2 773.36,695.04 777.3,694.89 781.24,694.75 785.18,694.61 789.13,694.47 793.07,694.33 797.01,694.17 800.95,694.01 804.9,693.83 808.84,693.64 812.78,693.42 816.72,693.18 820.67,692.91 824.61,692.6 828.55,692.26 832.5,691.88 836.44,691.46 840.38,690.99 844.32,690.47 848.27,689.89 852.21,689.26 856.15,688.57 860.09,687.81 864.04,686.98 867.98,686.08 871.92,685.1 875.86,684.05 879.81,682.91 883.75,681.69 887.69,680.38 891.63,678.97 895.58,677.46 899.52,675.86 903.46,674.16 907.41,672.36 911.35,670.46 915.29,668.46 919.23,666.35 923.18,664.15 927.12,661.84 931.06,659.44 935,656.92 938.95,654.31 942.89,651.59 946.83,648.76 950.77,645.83 954.72,642.79 958.66,639.65 962.6,636.4 966.55,633.04 970.49,629.58 974.43,626 978.37,622.32 982.32,618.54 986.26,614.69 990.2,610.78 994.14,606.83 998.09,602.85 1002.03,598.87 1005.97,594.9 1009.91,590.96 1013.86,587.06 1017.8,583.22 1021.74,579.43 1025.68,575.72 1029.63,572.09 1033.57,568.56 1037.51,565.13 1041.46,561.82 1045.4,558.65 1049.34,555.6 1053.28,552.68 1057.23,549.89 1061.17,547.22 1065.11,544.66 1069.05,542.23 1073,539.9 1076.94,537.69 1080.88,535.58 1084.82,533.58 1088.77,531.69 1092.71,529.89 1096.65,528.18 1100.59,526.57 1104.54,525.05 1108.48,523.62 1112.42,522.27 1116.37,521 1120.31,519.81 1124.25,518.7 1128.19,517.66 1132.14,516.69 1136.08,515.78 1140.02,514.94 1143.96,514.17 1147.91,513.45 1151.85,512.78 1155.79,512.17 1159.73,511.61 1163.68,511.09 1167.62,510.62 1171.56,510.19 1175.5,509.79 1179.45,509.44 1183.39,509.11 1187.33,508.81 1191.28,508.54 1195.22,508.3 1199.16,508.07 1203.1,507.86 1207.05,507.67 1210.99,507.49 1214.93,507.32 1218.87,507.15" fill="none" stroke="#000" stroke-width="3.7" stroke-linejoin="round" stroke-linecap="round"/>
<line x1="749.3" y1="678.8" x2="749.3" y2="703.8" stroke="#000" stroke-width="3.2" stroke-linecap="butt"/>
<line x1="741.8" y1="678.8" x2="756.8" y2="678.8" stroke="#000" stroke-width="3.4" stroke-linecap="butt"/>
<line x1="741.8" y1="703.8" x2="756.8" y2="703.8" stroke="#000" stroke-width="3.4" stroke-linecap="butt"/>
<ellipse cx="749.3" cy="691.2" rx="6.6" ry="7.3" fill="#000"/>
<line x1="891.8" y1="662" x2="891.8" y2="714.5" stroke="#000" stroke-width="3.2" stroke-linecap="butt"/>
<line x1="884.8" y1="662" x2="898.8" y2="662" stroke="#000" stroke-width="3.4" stroke-linecap="butt"/>
<line x1="884.8" y1="714.5" x2="898.8" y2="714.5" stroke="#000" stroke-width="3.4" stroke-linecap="butt"/>
<ellipse cx="891.8" cy="688.4" rx="6.6" ry="7.3" fill="#000"/>
<line x1="953.3" y1="616.5" x2="953.3" y2="660" stroke="#000" stroke-width="3.2" stroke-linecap="butt"/>
<line x1="946.3" y1="616.5" x2="960.3" y2="616.5" stroke="#000" stroke-width="3.4" stroke-linecap="butt"/>
<line x1="946.3" y1="660" x2="960.3" y2="660" stroke="#000" stroke-width="3.4" stroke-linecap="butt"/>
<ellipse cx="953.3" cy="637.8" rx="6.6" ry="7.3" fill="#000"/>
<line x1="1014.6" y1="574.6" x2="1014.6" y2="595.8" stroke="#000" stroke-width="3.2" stroke-linecap="butt"/>
<line x1="1008.1" y1="574.6" x2="1021.1" y2="574.6" stroke="#000" stroke-width="3.4" stroke-linecap="butt"/>
<line x1="1008.1" y1="595.8" x2="1021.1" y2="595.8" stroke="#000" stroke-width="3.4" stroke-linecap="butt"/>
<ellipse cx="1014.6" cy="585" rx="6.6" ry="7.3" fill="#000"/>
<ellipse cx="1076.1" cy="547.6" rx="6.6" ry="7.3" fill="#000"/>
<ellipse cx="1137.6" cy="512.8" rx="6.6" ry="7.3" fill="#000"/>
<ellipse cx="1173.4" cy="508" rx="6.6" ry="7.3" fill="#000"/>
<ellipse cx="1198.3" cy="506.6" rx="6.6" ry="7.3" fill="#000"/>
<ellipse cx="1218.5" cy="510.5" rx="6.6" ry="7.3" fill="#000"/>
<line x1="749.7" y1="400.4" x2="749.7" y2="785.9" stroke="#000" stroke-width="3.3" stroke-linecap="butt"/>
<line x1="739.05" y1="688.7" x2="1261" y2="688.7" stroke="#000" stroke-width="3.3" stroke-linecap="butt"/>
<line x1="739.05" y1="784.25" x2="749.7" y2="784.25" stroke="#000" stroke-width="3.3" stroke-linecap="butt"/>
<text class="s" transform="translate(735.55 794.81) scale(1 1.12)" font-size="26" text-anchor="end" letter-spacing="0">-50</text>
<text class="s" transform="translate(735.55 699.26) scale(1 1.12)" font-size="26" text-anchor="end" letter-spacing="0">0</text>
<line x1="739.05" y1="593.15" x2="749.7" y2="593.15" stroke="#000" stroke-width="3.3" stroke-linecap="butt"/>
<text class="s" transform="translate(735.55 603.71) scale(1 1.12)" font-size="26" text-anchor="end" letter-spacing="0">50</text>
<line x1="739.05" y1="497.6" x2="749.7" y2="497.6" stroke="#000" stroke-width="3.3" stroke-linecap="butt"/>
<text class="s" transform="translate(735.55 508.16) scale(1 1.12)" font-size="26" text-anchor="end" letter-spacing="0">100</text>
<line x1="739.05" y1="402.05" x2="749.7" y2="402.05" stroke="#000" stroke-width="3.3" stroke-linecap="butt"/>
<text class="s" transform="translate(735.55 412.61) scale(1 1.12)" font-size="26" text-anchor="end" letter-spacing="0">150</text>
<line x1="851.65" y1="688.7" x2="851.65" y2="700.35" stroke="#000" stroke-width="3.3" stroke-linecap="butt"/>
<text class="s" transform="translate(851.65 734.9) scale(1 1.12)" font-size="28.8" text-anchor="middle" letter-spacing="0">0.5</text>
<line x1="953.6" y1="688.7" x2="953.6" y2="700.35" stroke="#000" stroke-width="3.3" stroke-linecap="butt"/>
<text class="s" transform="translate(953.6 734.9) scale(1 1.12)" font-size="28.8" text-anchor="middle" letter-spacing="0">1.0</text>
<line x1="1055.55" y1="688.7" x2="1055.55" y2="700.35" stroke="#000" stroke-width="3.3" stroke-linecap="butt"/>
<text class="s" transform="translate(1055.55 734.9) scale(1 1.12)" font-size="28.8" text-anchor="middle" letter-spacing="0">1.5</text>
<line x1="1157.5" y1="688.7" x2="1157.5" y2="700.35" stroke="#000" stroke-width="3.3" stroke-linecap="butt"/>
<text class="s" transform="translate(1157.5 734.9) scale(1 1.12)" font-size="28.8" text-anchor="middle" letter-spacing="0">2.0</text>
<line x1="1259.45" y1="688.7" x2="1259.45" y2="700.35" stroke="#000" stroke-width="3.3" stroke-linecap="butt"/>
<text class="s" transform="translate(1259.45 734.9) scale(1 1.12)" font-size="28.8" text-anchor="middle" letter-spacing="0">2.5</text>
<text class="s" transform="translate(1035 446.8) scale(1 1.12)" font-size="29.3" text-anchor="middle" letter-spacing="0">IC<tspan font-size="22" dy="6.5" letter-spacing="2">50</tspan><tspan dy="-6.5">=18.685 </tspan><tspan class="mu">μ</tspan>M</text>
<text class="s" transform="translate(1043 792.5) scale(1 1.12)" font-size="28" text-anchor="middle" letter-spacing="0.84">log (Concentration)</text>
<text class="s" transform="translate(677.4 594.6) rotate(-90)" font-size="31.3" text-anchor="middle" textLength="289" lengthAdjust="spacingAndGlyphs">Inhibition rate (%)</text>
</g>
</svg>
</body></html>
